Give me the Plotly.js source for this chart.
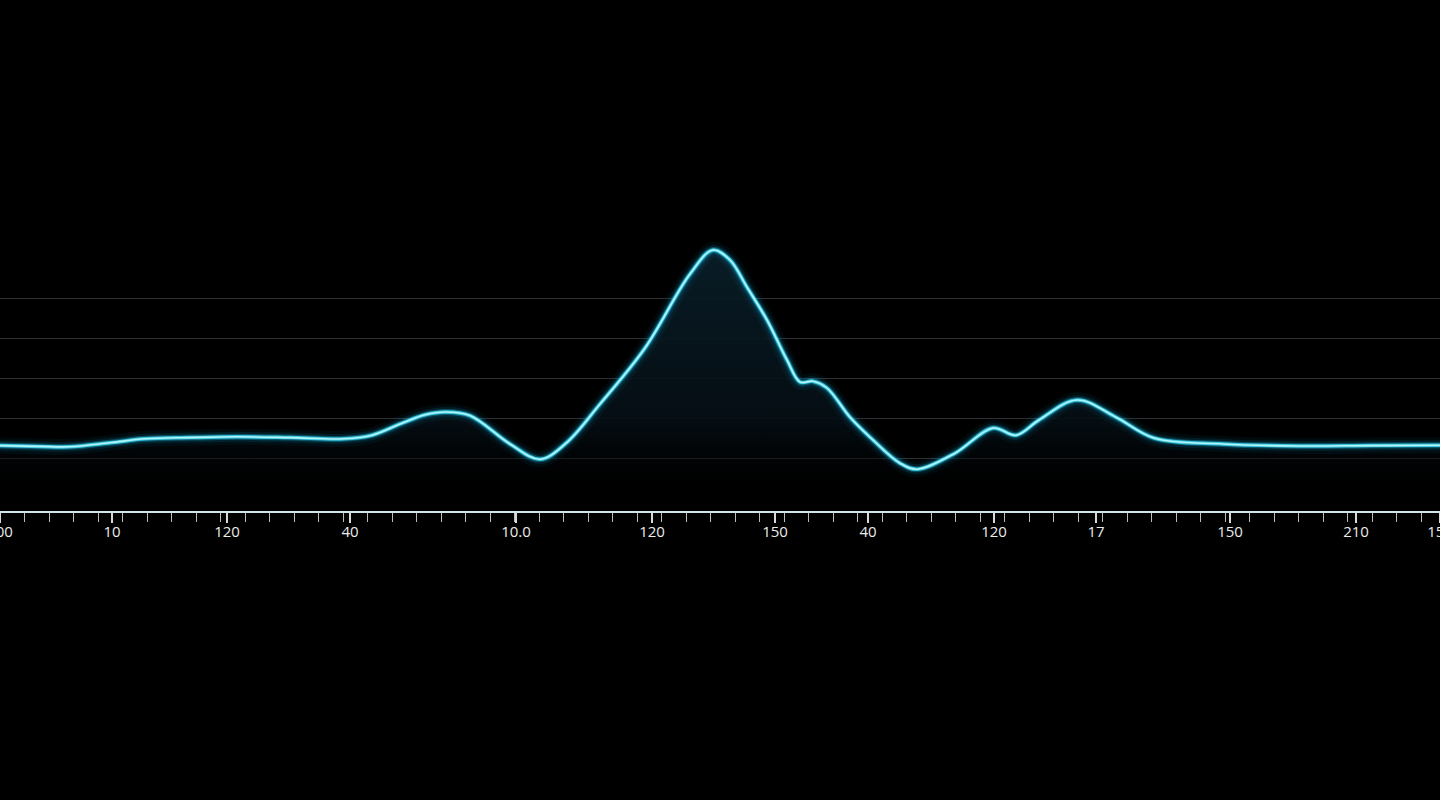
<!DOCTYPE html>
<html>
<head>
<meta charset="utf-8">
<script src="https://cdn.plot.ly/plotly-3.0.1.min.js"></script>
<style>
  html, body { margin: 0; padding: 0; background: #000; }
  #chart { width: 1440px; height: 800px; }
</style>
</head>
<body>
<div id="chart"></div>
<script>
// signal trace
var xPos = [0, 40, 69, 110, 145, 190, 237, 290, 344, 372, 402, 425, 446, 470, 510, 540, 566,
            600, 645, 690, 713, 730, 747, 767, 787, 800, 813, 827, 850, 873, 900,
            917, 955, 993, 1016, 1039, 1077, 1116, 1154, 1223, 1299, 1370, 1440];
var level = [13.1, 12.9, 12.8, 13.8, 14.8, 15.1, 15.3, 15.1, 14.8, 15.7, 18.7, 20.8, 21.5, 20.6, 13.5, 9.7, 13.7,
             23.5, 37.5, 56, 62, 59.5, 52.7, 44.5, 34.5, 29, 29.2, 27.5, 20.2, 14.5, 8.7,
             7.2, 11.2, 17.5, 15.7, 19.5, 24.5, 20.2, 15, 13.5, 13, 13.1, 13.2];

// axis labels as printed
var tickPos = [0, 112, 227, 350, 516, 652, 775, 868, 994, 1096, 1230, 1356, 1440];
var tickText = ['100', '10', '120', '40', '10.0', '120', '150', '40', '120', '17', '150', '210', '150'];

var gridVals = [10, 20, 30, 40, 50];

// glow layers, widest first
var glow = [
    {w: 16, c: 'rgba(0,190,255,0.05)'},
    {w: 10, c: 'rgba(0,200,255,0.10)'},
    {w: 6, c: 'rgba(30,210,250,0.30)'},
    {w: 3.5, c: 'rgba(70,220,245,0.85)'},
    {w: 1.6, c: 'rgba(190,250,255,0.9)'}
];

var data = [{
    x: xPos,
    y: level,
    type: 'scatter',
    mode: 'lines',
    line: {shape: 'spline', smoothing: 1, width: 0, color: 'rgba(0,0,0,0)'},
    fill: 'tozeroy',
    fillgradient: {
        type: 'vertical',
        colorscale: [[0, 'rgba(0,0,0,0)'], [0.3, 'rgba(5,14,20,0.9)'], [1, 'rgba(9,30,40,0.95)']]
    },
    hoverinfo: 'skip',
    showlegend: false
}];

glow.forEach(function(g) {
    data.push({
        x: xPos,
        y: level,
        type: 'scatter',
        mode: 'lines',
        line: {shape: 'spline', smoothing: 1, width: g.w, color: g.c},
        hoverinfo: 'skip',
        showlegend: false
    });
});

var layout = {
    width: 1440,
    height: 800,
    paper_bgcolor: '#000',
    plot_bgcolor: '#000',
    margin: {t: 100, b: 289, l: 0, r: 0},
    showlegend: false,
    xaxis: {
        range: [0, 1440],
        showgrid: false,
        zeroline: false,
        showline: true,
        linecolor: '#cfe4ec',
        linewidth: 2,
        tickmode: 'array',
        tickvals: tickPos,
        ticktext: tickText,
        ticks: 'outside',
        ticklen: 10,
        tickwidth: 1.5,
        tickcolor: '#d8d8d8',
        ticklabelstandoff: -4,
        ticklabeloverflow: 'allow',
        tickfont: {family: 'Open Sans, sans-serif', size: 15, color: '#ececec'},
        minor: {tickmode: 'linear', tick0: 0, dtick: 24.5, ticks: 'outside', ticklen: 9, tickwidth: 1, tickcolor: '#bdbdbd', showgrid: false},
        fixedrange: true
    },
    yaxis: {
        range: [-3.25, 99.5],
        tickmode: 'array',
        tickvals: gridVals,
        showticklabels: false,
        showgrid: true,
        gridcolor: 'rgba(200,210,230,0.22)',
        gridwidth: 1,
        zeroline: false,
        showline: false,
        ticks: '',
        fixedrange: true
    }
};

Plotly.newPlot('chart', data, layout, {displayModeBar: false, staticPlot: true});
</script>
</body>
</html>
